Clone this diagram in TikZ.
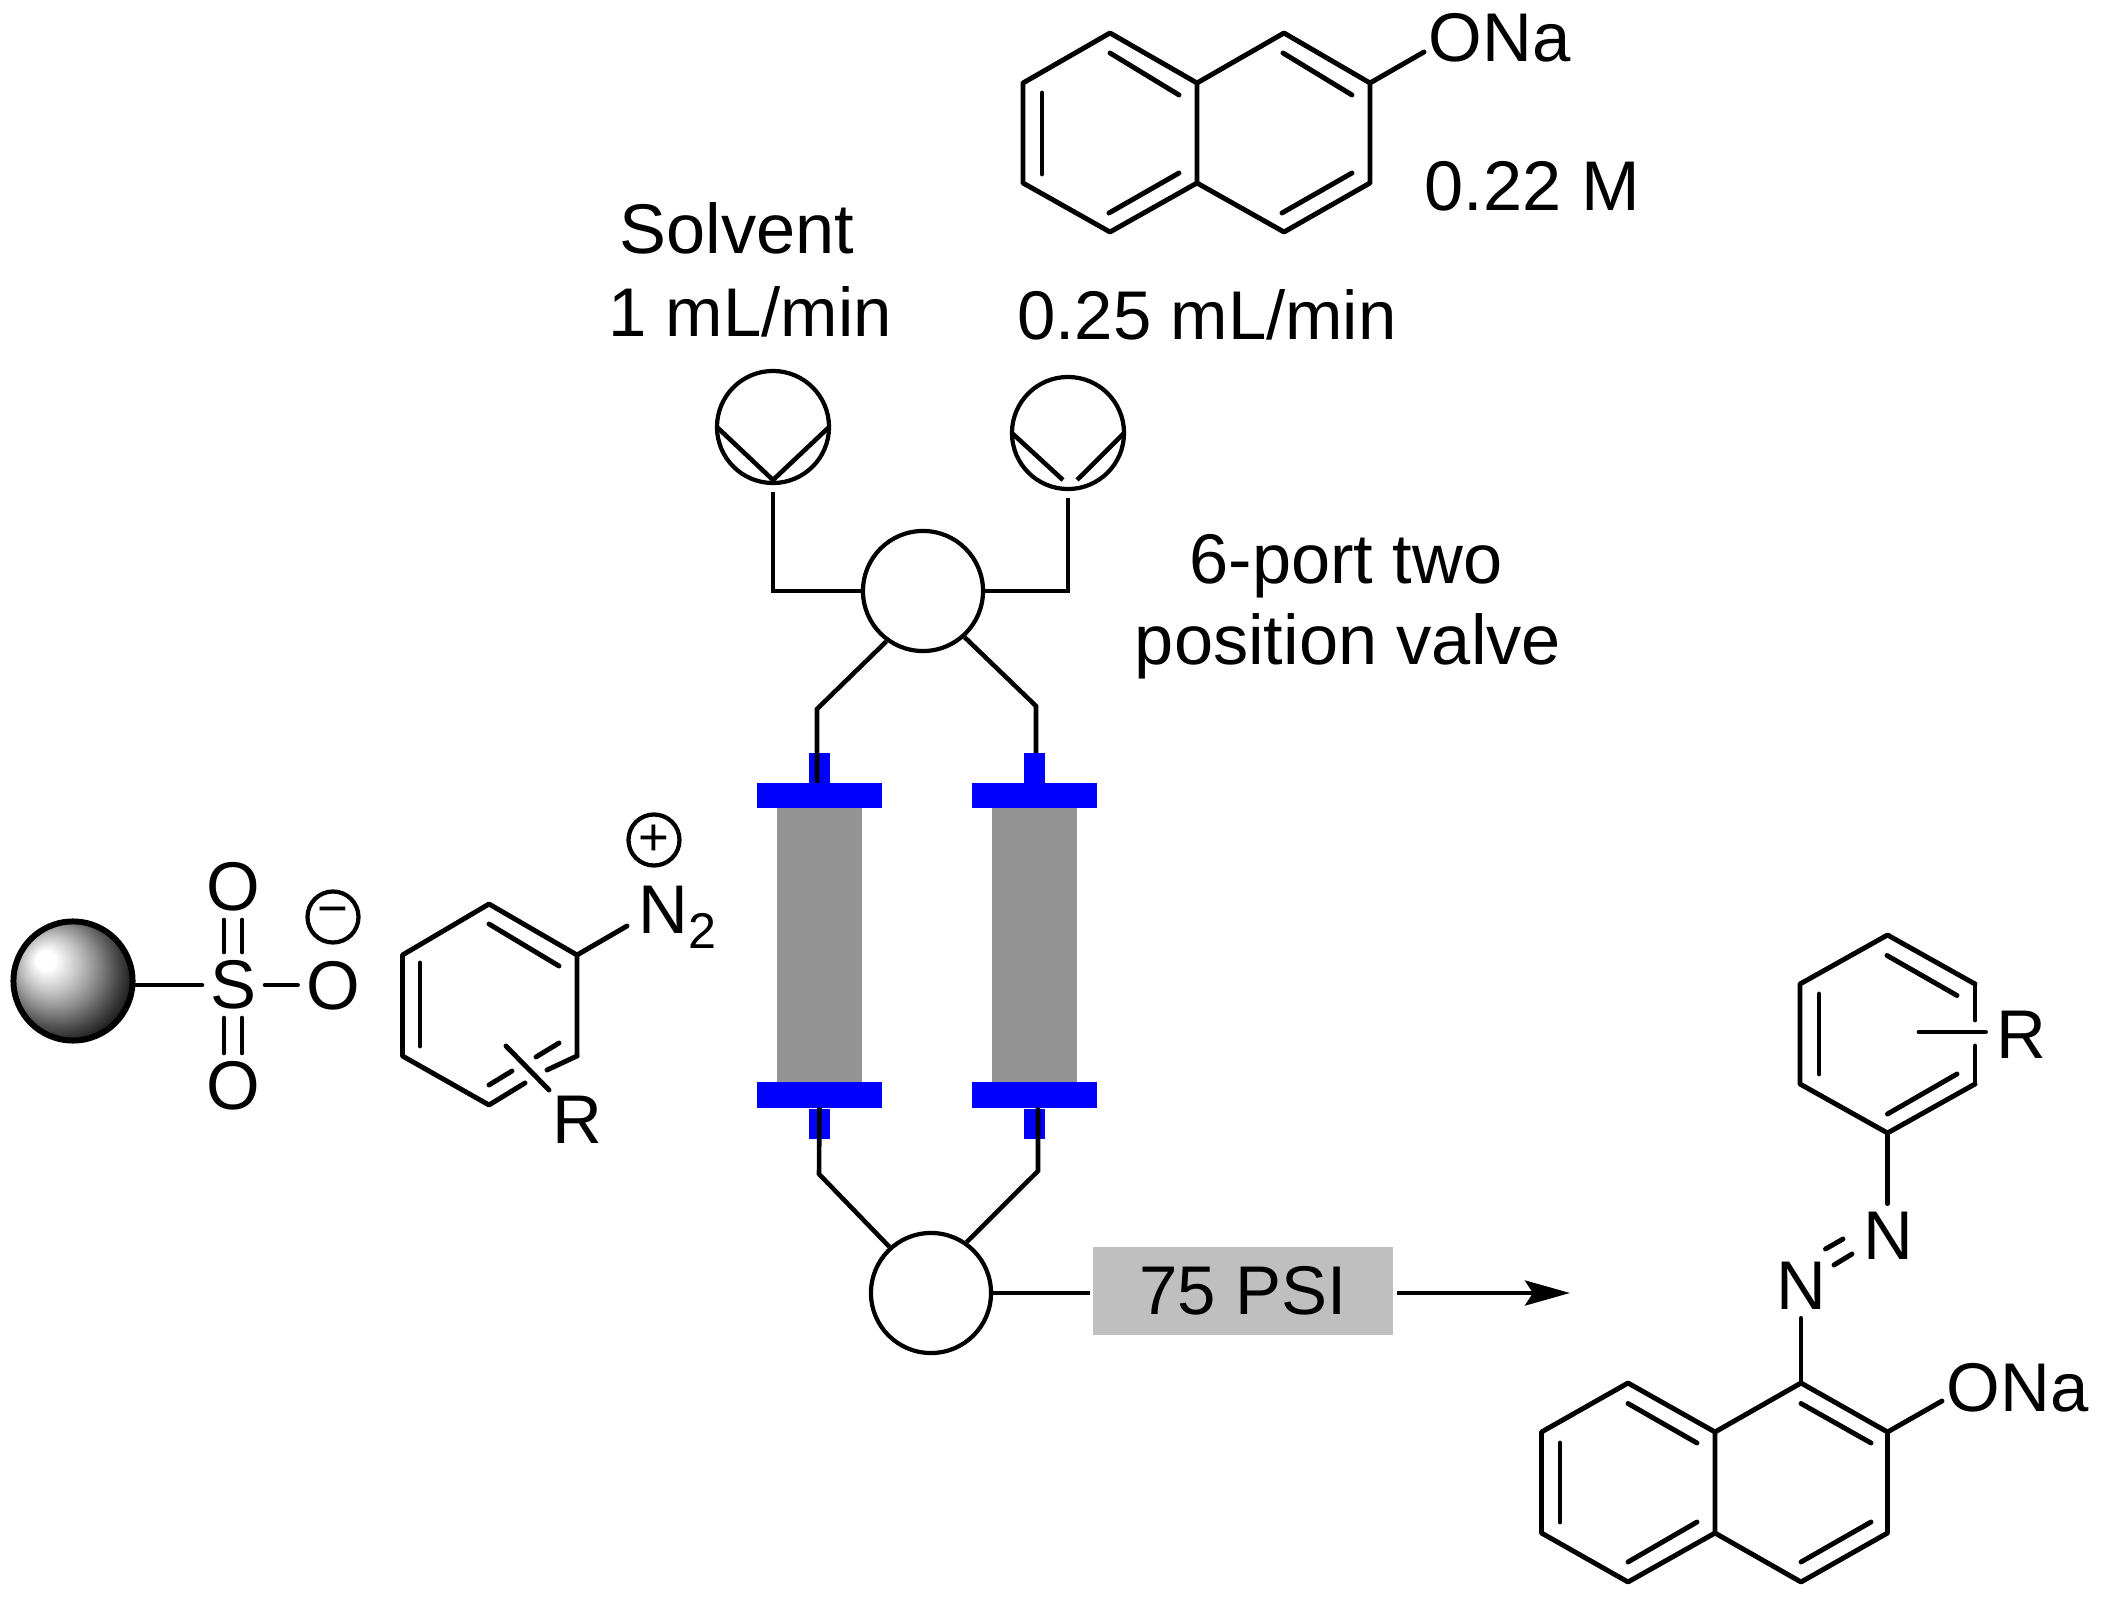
\documentclass[tikz,border=0pt]{standalone}
\usepackage{fontspec}
\setmainfont{Liberation Sans}
\usepackage{xcolor}
\usetikzlibrary{arrows.meta}
\colorlet{dblue}{blue}
\colorlet{colfill}{black!42}
\colorlet{boxfill}{black!25}
\newcommand\bigtxt{\fontsize{19.6}{23}\selectfont}
\newcommand\widetxt{\fontsize{20}{23}\selectfont}
\newcommand\subtxt{\fontsize{14.3}{16}\selectfont}
\pgfdeclareradialshading{bead}{\pgfpoint{-12.5bp}{9.5bp}}{%
	rgb(0bp)=(1,1,1);rgb(4bp)=(1,1,1);rgb(12bp)=(.76,.76,.76);rgb(18bp)=(.55,.55,.55);rgb(24bp)=(.32,.32,.32);rgb(31bp)=(.08,.08,.08);rgb(35bp)=(0,0,0);rgb(50bp)=(0,0,0)}
\tikzstyle{bnd}=[line width=1.4pt,line cap=round,line join=round]
\tikzstyle{wire}=[line width=1.3pt,line join=miter]
\tikzstyle{lbl}=[inner sep=0pt,font=\bigtxt,anchor=base]
\tikzstyle{lblw}=[inner sep=0pt,font=\widetxt,anchor=base]
\tikzstyle{atom}=[inner sep=.08cm,font=\bigtxt]
\tikzstyle{chg}=[circle,draw,line width=1.2pt,inner sep=0pt,minimum size=.51cm,font=\fontsize{15}{15}\selectfont]
\tikzstyle{pump}=[circle,draw,line width=1.2pt,inner sep=0pt,minimum size=1.12cm]
\tikzstyle{valve}=[circle,draw,line width=1.2pt,inner sep=0pt,minimum size=1.2cm]
\tikzstyle{column}=[rectangle,fill=colfill,inner sep=0pt,outer sep=0pt,minimum width=.85cm,minimum height=2.75cm]
\tikzstyle{flange}=[rectangle,fill=dblue,inner sep=0pt,outer sep=0pt,minimum width=1.25cm,minimum height=.25cm]
\tikzstyle{stub}=[rectangle,fill=dblue,inner sep=0pt,outer sep=0pt,minimum width=.21cm,minimum height=.30cm]
\begin{document}
\begin{tikzpicture}[x=.01cm,y=-.01cm]
	\useasboundingbox (0,0) rectangle (2102,1597);
	% solvent and reagent lines
	\node[lblw] (solv) at (737,254) {Solvent};
	\node[lbl] (rate1) at (750,337) {1 mL/min};
	\node[lbl] (rate2) at (1207,340) {0.25 mL/min};
	\node[lblw] (port1) at (1346,583) {6-port two};
	\node[lblw] (port2) at (1348,664) {position valve};
	\node[lblw,anchor=base west] (conc) at (1424,211) {0.22 M};
	\node[pump] (p1) at (773,427) {};
	\node[pump] (p2) at (1068,433) {};
	\node[valve] (v1) at (923,591) {};
	\node[valve] (v2) at (931,1293) {};
	\draw[wire] ([xshift=.02cm]p1.west) -- (773,480) -- ([xshift=-.02cm]p1.east);
	\draw[wire] ([xshift=.02cm]p2.west) -- (1063,480);
	\draw[wire] ([xshift=-.02cm]p2.east) -- (1077,480);
	% columns
	\node[column] (c1) at (819.5,945.5) {};
	\node[column] (c2) at (1034.5,945.5) {};
	\node[flange] (f1) at (819.5,795.5) {};
	\node[flange] (f2) at (1034.5,795.5) {};
	\node[flange] (f3) at (819.5,1095) {};
	\node[flange] (f4) at (1034.5,1095) {};
	\node[stub] (s1) at (819.5,768) {};
	\node[stub] (s2) at (1034.5,768) {};
	\node[stub] (s3) at (819.5,1124) {};
	\node[stub] (s4) at (1034.5,1124) {};
	\draw[wire] ([yshift=-.07cm]p1.south) |- (v1.west);
	\draw[wire] ([yshift=-.07cm]p2.south) |- (v1.east);
	\draw[wire] (v1.234) -- (817,709) -- ([xshift=-.025cm]f1.north);
	\draw[wire] (v1.312) -- (1036,706) -- ([xshift=.015cm]s2.north);
	\draw[wire] (v2.132) -- (819,1174) -- (f3.south);
	\draw[wire] (v2.55) -- (1038,1171) -- ([xshift=.035cm]f4.south);
	\node[rectangle,fill=boxfill,font=\bigtxt,inner sep=0pt,minimum width=3cm,minimum height=.88cm] (psi) at (1243,1291) {75 PSI};
	\coordinate (prod) at (1570,1293);
	\draw[wire] (v2.east) -- ([xshift=-.02cm]v2.east -| psi.west);
	\draw[wire,-{Stealth[length=.45cm,width=.25cm,inset=.08cm]}] ([xshift=.03cm]prod -| psi.east) -- (prod);
	% resin
	\node[circle,draw,line width=1.7pt,shading=bead,inner sep=0pt,minimum size=1.19cm] (bead) at (73,981) {};
	\node[atom] (S) at (233.5,985) {S};
	\node[atom] (O1) at (233.5,887) {O};
	\node[atom] (O2) at (233.5,1086) {O};
	\node[atom] (O3) at (333,986) {O};
	\node[chg] (minus) at (333,917) {−};
	\draw[bnd] (bead.east |- S) -- (S.west);
	\draw[bnd] (S.east) -- (S.east -| O3.west);
	\foreach \dx in {-.095,.085} {
		\draw[bnd] ([xshift=\dx cm]O1.south) -- ([xshift=\dx cm]S.north);
		\draw[bnd] ([xshift=\dx cm]S.south) -- ([xshift=\dx cm]O2.north);
	}
	% diazonium
	\coordinate (a1) at (489,904);
	\coordinate (a2) at (577,955);
	\coordinate (a3) at (577,1056);
	\coordinate (a4) at (489,1105);
	\coordinate (a5) at (402.5,1056);
	\coordinate (a6) at (402.5,955);
	\coordinate (n0) at (627,926);
	\draw[bnd] (a3) -- (547,1070);
	\draw[bnd] (525,1083) -- (a4) -- (a5) -- (a6) -- (a1) -- (a2) -- (a3);
	\draw[bnd] (a2) -- (n0);
	\draw[bnd] (420,963) -- (420,1046);
	\draw[bnd] (489,924) -- (559,966);
	\draw[bnd] (559,1043) -- (536,1057);
	\draw[bnd] (512,1071) -- (489,1085);
	\draw[bnd] (506,1046) -- (549,1090);
	\node[atom,inner sep=0pt] (R1) at (577,1120) {R};
	\node[inner sep=0pt,font=\bigtxt,anchor=base west] (N0) at (638,933) {N\raisebox{-.15cm}{\subtxt 2}};
	\node[chg] (plus) at (654,840) {+};
	% naphthoxide
	\coordinate (b1) at (1110,33);
	\coordinate (b2) at (1023,83);
	\coordinate (b3) at (1023,183);
	\coordinate (b4) at (1110,232);
	\coordinate (b5) at (1197,183);
	\coordinate (b6) at (1197,83);
	\coordinate (b7) at (1284,33);
	\coordinate (b8) at (1370,83);
	\coordinate (b9) at (1370,183);
	\coordinate (b10) at (1284,232);
	\coordinate (b11) at (1424,52);
	\draw[bnd] (b1) -- (b2) -- (b3) -- (b4) -- (b5) -- (b6) -- cycle;
	\draw[bnd] (b6) -- (b7) -- (b8) -- (b9) -- (b10) -- (b5);
	\draw[bnd] (b8) -- (b11);
	\draw[bnd] (1042,93) -- (1042,174);
	\draw[bnd] (1110,53) -- (1179,95);
	\draw[bnd] (1179,173) -- (1109,213);
	\draw[bnd] (1283,53) -- (1352,95);
	\draw[bnd] (1352,173) -- (1282,213);
	\node[lbl,anchor=base west] (ona1) at (1428,62) {ONa};
	% azo product
	\coordinate (d1) at (1887.5,935);
	\coordinate (d2) at (1975,984);
	\coordinate (d3) at (1975,1084);
	\coordinate (d4) at (1887.5,1133);
	\coordinate (d5) at (1800,1084);
	\coordinate (d6) at (1800,984);
	\coordinate (r0) at (1919,1032);
	\coordinate (e1) at (1628,1383);
	\coordinate (e2) at (1541.5,1432);
	\coordinate (e3) at (1541.5,1533);
	\coordinate (e4) at (1628,1582);
	\coordinate (e5) at (1715,1533);
	\coordinate (e6) at (1715,1432);
	\coordinate (e7) at (1801,1383);
	\coordinate (e8) at (1887.5,1432);
	\coordinate (e9) at (1887.5,1533);
	\coordinate (e10) at (1801,1582);
	\coordinate (e11) at (1942,1401);
	\node[atom,inner sep=.1cm] (R2) at (2021,1035) {R};
	\node[atom] (N1) at (1888,1236) {N};
	\node[atom] (N2) at (1801,1286) {N};
	\draw[bnd] (d2) -- (d1) -- (d6) -- (d5) -- (d4) -- (d3);
	\draw[bnd] (d2) -- (1975,1020);
	\draw[bnd] (1975,1046) -- (d3);
	\draw[bnd] (r0) -- (r0 -| R2.west);
	\draw[bnd] (1819,994) -- (1819,1074);
	\draw[bnd] (1887,955.5) -- (1957,995.5);
	\draw[bnd] (1957,1074) -- (1887.5,1114);
	\draw[bnd] (d4) -- (N1.north -| d4);
	\draw[bnd] (1825.5,1249) -- (1843,1239);
	\draw[bnd] (1834,1265) -- (1852,1254);
	\draw[bnd] (N2.south) -- (e7);
	\draw[bnd] (e1) -- (e2) -- (e3) -- (e4) -- (e5) -- (e6) -- cycle;
	\draw[bnd] (e6) -- (e7) -- (e8) -- (e9) -- (e10) -- (e5);
	\draw[bnd] (e8) -- (e11);
	\draw[bnd] (1560,1443) -- (1560,1522);
	\draw[bnd] (1628,1403.5) -- (1697,1443);
	\draw[bnd] (1697,1522) -- (1628,1562);
	\draw[bnd] (1801,1403.5) -- (1871,1443);
	\draw[bnd] (1871,1522) -- (1801,1562);
	\node[lbl,anchor=base west] (ona2) at (1946,1411) {ONa};
\end{tikzpicture}
\end{document}
